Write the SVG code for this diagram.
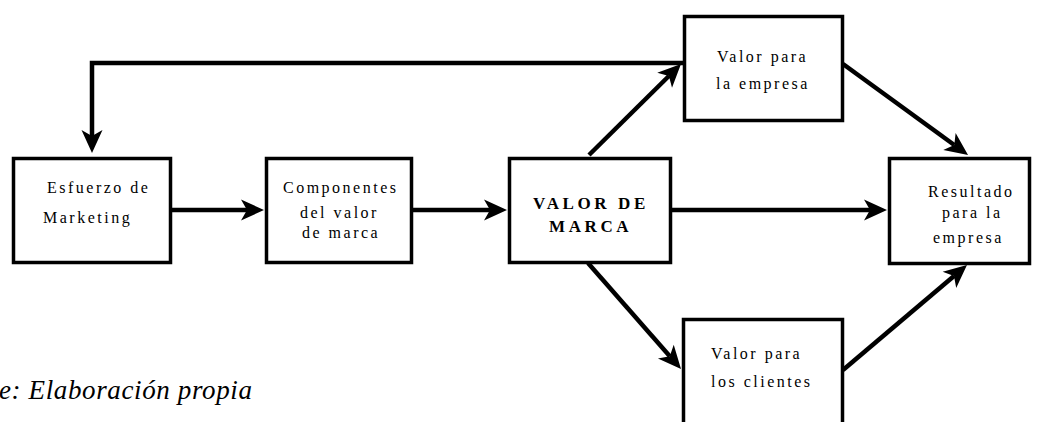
<svg xmlns="http://www.w3.org/2000/svg" width="1037" height="422" viewBox="0 0 1037 422">
<style>
.box{fill:#fff;stroke:#000;stroke-width:3.5}
.lbl{font-size:16px;letter-spacing:2.5px;fill:#000}
.bold{font-weight:bold;font-size:17px;letter-spacing:3.6px}
.con{fill:none;stroke:#000;stroke-width:4.5;marker-end:url(#ah)}
.foot{font-style:italic;font-size:27px;fill:#000}
</style>
<defs>
<marker id="ah" markerUnits="userSpaceOnUse" markerWidth="40" markerHeight="40" viewBox="-10 -15 40 30" refX="0" refY="0" orient="auto" overflow="visible">
<path d="M17,0 L-6,-10.5 L0,0 L-6,10.5 Z" fill="#000"/>
</marker>
</defs>
<g id="connectors">
<path class="con" d="M172,210 H247"/>
<path class="con" d="M411,210 H490"/>
<path class="con" d="M671,210 H870"/>
<path class="con" d="M684,63 H92 V136"/>
<path class="con" d="M589,155 L668.9,76"/>
<path class="con" d="M843,64 L954.3,145"/>
<path class="con" d="M588,263 L669.8,356.2"/>
<path class="con" d="M843,370 L954,276"/>
</g>
<g font-family="'Liberation Serif', 'Times New Roman', serif">
<g id="esfuerzo">
<rect class="box" x="13.5" y="158.5" width="157" height="104"/>
<text class="lbl" x="47" y="193">Esfuerzo de</text>
<text class="lbl" x="43" y="223">Marketing</text>
</g>
<g id="componentes">
<rect class="box" x="266.5" y="158.5" width="145" height="104"/>
<text class="lbl" x="283" y="193">Componentes</text>
<text class="lbl" x="300" y="218">del valor</text>
<text class="lbl" x="302" y="238">de marca</text>
</g>
<g id="valor-marca">
<rect class="box" x="509.5" y="158.5" width="161" height="104"/>
<text class="lbl bold" x="533" y="209">VALOR DE</text>
<text class="lbl bold" x="549" y="232">MARCA</text>
</g>
<g id="valor-empresa">
<rect class="box" x="684.5" y="16.5" width="158" height="104"/>
<text class="lbl" x="717" y="62">Valor para</text>
<text class="lbl" x="716" y="89">la empresa</text>
</g>
<g id="resultado">
<rect class="box" x="889.5" y="158.5" width="140" height="105"/>
<text class="lbl" x="928" y="197">Resultado</text>
<text class="lbl" x="942" y="218">para la</text>
<text class="lbl" x="933" y="243">empresa</text>
</g>
<g id="valor-clientes">
<rect class="box" x="683.5" y="319.5" width="159" height="110"/>
<text class="lbl" x="711" y="359">Valor para</text>
<text class="lbl" x="711" y="387">los clientes</text>
</g>
<text class="foot" x="-1" y="399" textLength="253" lengthAdjust="spacing">e: Elaboración propia</text>
</g>
</svg>
